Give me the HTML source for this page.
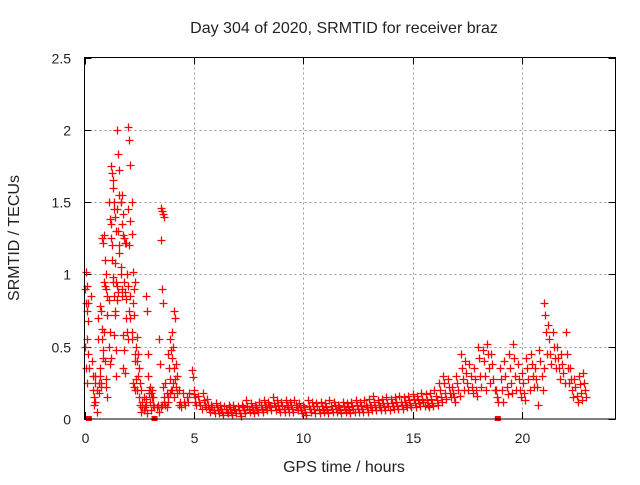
<!DOCTYPE html>
<html><head><meta charset="utf-8"><style>
body{margin:0;background:#fff;}
svg text{font-family:"Liberation Sans",sans-serif;fill:#222;}
</style></head><body>
<svg id="chart" width="640" height="480" xmlns="http://www.w3.org/2000/svg">
<rect width="640" height="480" fill="#fff"/>
<g id="grid"></g><g id="ticks"></g><g id="marks"></g>
<rect x="84.5" y="57.5" width="531" height="361.5" fill="none" stroke="#000" stroke-width="1"/>
<text x="344" y="33" font-size="16" text-anchor="middle">Day 304 of 2020, SRMTID for receiver braz</text>
<text x="344" y="472" font-size="16" text-anchor="middle">GPS time / hours</text>
<text x="19" y="238" font-size="16" text-anchor="middle" transform="rotate(-90 19 238)">SRMTID / TECUs</text>
</svg>
<script>
const groupTimes=[0.0,0.05,0.1,0.3,0.4,0.5,0.6,0.7,0.8,0.9,1.0,1.1,1.2,1.3,1.4,1.5,1.6,1.7,1.8,1.9,2.0,2.1,2.2,2.3,2.4,2.5,2.6,2.7,2.8,2.9,3.0,3.1,3.3,3.4,3.5,3.6,3.7,3.8,3.9,4.0,4.1,4.2,4.3,4.5,4.7,4.9,5.0,
5.2,5.4,5.6,5.8,6.0,6.2,6.4,6.6,6.8,7.0,7.2,7.4,7.6,7.8,8.0,8.2,8.4,8.6,8.8,9.0,9.2,9.4,9.6,9.8,10.0,10.2,10.4,10.6,10.8,11.0,11.2,11.4,11.6,11.8,12.0,12.2,12.4,12.6,12.8,13.0,13.2,13.4,13.6,13.8,14.0,14.2,14.4,14.6,14.8,15.0,15.2,15.4,15.6,15.8,
16.0,16.2,16.4,16.6,16.8,17.0,17.2,17.4,17.6,17.8,18.0,18.2,18.4,18.6,18.8,19.0,19.2,19.4,19.6,19.8,20.0,20.2,20.4,20.6,20.8,21.0,21.2,21.4,21.6,21.8,22.0,22.2,22.4,22.6,22.8];
const groupValues=[
[0.9,0.8,0.75,0.68,0.5,0.35,0.25],[1.02,0.92,0.8],[0.55,0.45,0.35],[0.85,0.4,0.3,0.15],[0.2,0.1,0.25,0.05],[0.3,0.2,0.7,0.18,0.12],[0.55,0.25,0.35,0.22],[0.78,0.75,0.62,0.42,0.3,0.25],[1.25,1.22,0.95,0.92,0.55,0.48],[1.27,1.1,1.0,0.72,0.6,0.4,0.22],[0.9,0.85,0.5,0.38,0.28,0.15],[1.5,1.38,1.25,1.2,0.82,0.6,0.42],[1.75,1.7,1.65,1.45,1.35,1.1,0.98,0.58],[1.6,1.5,1.4,1.3,0.95,0.85,0.75,0.48],[1.08,0.95,0.92,0.88,0.72,0.3],[2.0,1.83,1.55,1.5,1.45,1.3,1.15,1.0,0.82],[1.72,1.5,1.35,1.27,1.2,1.05,0.85,0.35],[1.55,1.42,1.25,1.22,0.9,0.58],[0.95,0.88,0.83,0.6,0.48,0.32],[1.22,1.0,0.92,0.75,0.7],[2.02,1.93,1.76,1.5,1.45,1.2,0.85,0.6,0.55],[1.37,1.28,1.02,0.9,0.7,0.55],[0.8,0.72,0.45,0.28,0.25,0.22,0.4],[0.95,0.5,0.4,0.3,0.2],[0.57,0.45,0.35,0.25,0.2],[0.15,0.1,0.05,0.08],[0.2,0.12,0.06],[0.15,0.08,0.14,0.04],[0.85,0.75,0.45,0.18,0.1],[0.3,0.2,0.12,0.06],[0.22,0.18,0.15,0.1],[0.2,0.15,0.08],[0.08,0.1,0.05],[0.55,0.38,0.08,0.1],[1.46,1.44,1.42,1.4,1.24,0.9,0.8,0.12],[0.22,0.15,0.1,0.08],[0.25,0.18,0.12],[0.45,0.35,0.28,0.2,0.15],[0.55,0.48,0.42,0.25,0.18],[0.6,0.5,0.35,0.28,0.2],[0.75,0.7,0.38,0.3,0.15],[0.22,0.18,0.1],[0.2,0.12,0.08],[0.18,0.12,0.1],[0.15,0.12,0.18],[0.34,0.29,0.17,0.12],[0.2,0.15,0.1],
[0.16,0.12,0.1,0.07],[0.18,0.13,0.1,0.08],[0.14,0.1,0.07,0.05],[0.1,0.08,0.06,0.04],[0.11,0.08,0.06,0.04],[0.1,0.07,0.05,0.03],[0.09,0.07,0.05,0.04],[0.1,0.08,0.05,0.03],[0.1,0.07,0.06,0.04],[0.09,0.06,0.04,0.02],[0.1,0.08,0.06,0.04],[0.13,0.09,0.07,0.05],[0.11,0.08,0.06,0.04],[0.1,0.08,0.06,0.05],[0.12,0.1,0.07,0.05],[0.13,0.1,0.08,0.06],[0.12,0.1,0.08,0.06],[0.15,0.11,0.09,0.06],[0.13,0.1,0.07,0.05],[0.12,0.09,0.07,0.05],[0.13,0.1,0.08,0.05],[0.12,0.1,0.07,0.05],[0.13,0.1,0.08,0.06],[0.11,0.08,0.06,0.04],[0.1,0.08,0.05,0.03],[0.13,0.09,0.07,0.05],[0.12,0.09,0.07,0.04],[0.11,0.09,0.06,0.04],[0.12,0.09,0.07,0.05],[0.11,0.08,0.06,0.04],[0.13,0.09,0.07,0.05],[0.12,0.1,0.07,0.05],[0.1,0.08,0.06,0.04],[0.12,0.09,0.07,0.05],[0.11,0.08,0.06,0.04],[0.12,0.09,0.07,0.05],[0.13,0.1,0.07,0.05],[0.12,0.09,0.07,0.05],[0.13,0.1,0.08,0.05],[0.14,0.1,0.08,0.06],[0.16,0.12,0.08,0.06],[0.13,0.1,0.08,0.06],[0.14,0.11,0.08,0.06],[0.15,0.11,0.09,0.06],[0.14,0.11,0.09,0.07],[0.15,0.12,0.09,0.07],[0.16,0.12,0.1,0.07],[0.15,0.12,0.1,0.08],[0.16,0.13,0.1,0.08],[0.17,0.14,0.11,0.08],[0.16,0.13,0.11,0.09],[0.18,0.14,0.12,0.09],[0.17,0.13,0.1,0.08],[0.18,0.14,0.11,0.09],
[0.2,0.16,0.13,0.1],[0.25,0.2,0.15,0.12],[0.3,0.25,0.18,0.14],[0.28,0.22,0.18,0.15],[0.22,0.18,0.15,0.12],[0.3,0.25,0.2,0.16],[0.45,0.35,0.28,0.2],[0.4,0.32,0.25,0.2],[0.38,0.3,0.22,0.18],[0.35,0.28,0.2,0.16],[0.5,0.42,0.3,0.22],[0.48,0.4,0.3,0.2],[0.52,0.45,0.35,0.25],[0.45,0.38,0.28,0.2],[0.2,0.15,0.12],[0.35,0.28,0.2,0.12],[0.4,0.3,0.22,0.17],[0.45,0.35,0.25,0.18],[0.52,0.42,0.3,0.2],[0.38,0.28,0.2,0.15],[0.32,0.25,0.18,0.13],[0.42,0.35,0.28,0.2],[0.45,0.38,0.3,0.22],[0.35,0.28,0.22,0.1],[0.48,0.4,0.3,0.2],[0.8,0.72,0.6,0.45,0.35],[0.65,0.55,0.45,0.38],[0.6,0.5,0.42,0.35],[0.5,0.42,0.35,0.28],[0.45,0.38,0.32,0.25],[0.6,0.45,0.35,0.25],[0.35,0.28,0.2,0.15],[0.28,0.22,0.16,0.12],[0.3,0.24,0.18,0.13],[0.32,0.25,0.2,0.15]];
const xTicks=[0,5,10,15,20];
const yTicks=[0,0.5,1,1.5,2,2.5];
const zeroMarks=[0.2,3.2,18.9];
const X0=84.5,X1=615.5,Y0=419,Y1=57.5,XMAX=24.28,YMAX=2.5;
function sx(v){return X0+v/XMAX*(X1-X0);}
function sy(v){return Y0-v/YMAX*(Y0-Y1);}
const NS='http://www.w3.org/2000/svg';
function mk(t,a,p){const e=document.createElementNS(NS,t);for(const k in a)e.setAttribute(k,a[k]);p.appendChild(e);return e;}
const grid=document.getElementById('grid'),ticks=document.getElementById('ticks'),marks=document.getElementById('marks');
xTicks.forEach(t=>{const x=Math.round(sx(t))+0.5;
 if(t>0){const g=mk('line',{x1:x,x2:x,y1:Y1,y2:Y0,stroke:'#999','stroke-dasharray':'2,3'},grid);
 
 }
 mk('line',{x1:x,x2:x,y1:Y0,y2:Y0-7,stroke:'#000'},ticks);mk('line',{x1:x,x2:x,y1:Y1,y2:Y1+7,stroke:'#000'},ticks);
 const l=mk('text',{x:x,y:443,'font-size':14,'text-anchor':'middle'},ticks);l.textContent=t;
 
 });
yTicks.forEach(t=>{const y=Math.round(sy(t))+0.5;
 if(t>0&&t<YMAX){const g=mk('line',{x1:X0,x2:X1,y1:y,y2:y,stroke:'#999','stroke-dasharray':'2,3'},grid);
 
 }
 mk('line',{x1:X0,x2:X0+7,y1:y,y2:y,stroke:'#000'},ticks);mk('line',{x1:X1,x2:X1-7,y1:y,y2:y,stroke:'#000'},ticks);
 const l=mk('text',{x:71,y:y+5,'font-size':14,'text-anchor':'end'},ticks);l.textContent=t;
 
 });
groupTimes.forEach((t,i)=>{(groupValues[i]||[]).forEach((v,j)=>{
 const x=Math.round(sx(t+(j%4)*0.05))+0.5,y=Math.round(sy(v))+0.5;
 const p=mk('path',{d:`M${x-4},${y}h8M${x},${y-4}v8`,stroke:'#f00','stroke-width':1.3},marks);
 
 });});
zeroMarks.forEach(t=>{const r=mk('rect',{x:sx(t)-3,y:Y0-3,width:6,height:5,fill:'#f00'},marks);
 
 });
</script>
</body></html>
